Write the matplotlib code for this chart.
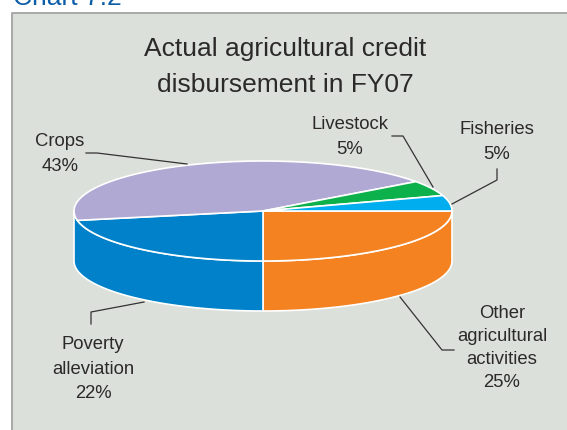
import numpy as np
import matplotlib
matplotlib.use('Agg')
import matplotlib.pyplot as plt
from matplotlib.patches import Rectangle

plt.rcParams['font.family'] = ['Liberation Sans', 'DejaVu Sans']

categories = ['Other\nagricultural\nactivities', 'Poverty\nalleviation', 'Crops', 'Livestock', 'Fisheries']
shares = [25, 22, 43, 5, 5]
colors = ['#F58220', '#0081C9', '#B0A9D3', '#0DB14B', '#00AEEF']

label_xy = [(502, 348), (93, 369), (60, 154), (350, 137), (497, 142)]
label_spacing = [1.45, 1.6, 1.6, 1.6, 1.6]
leaders = [
    [(400, 297), (442, 350), (454, 350)],
    [(144, 302), (91, 312), (91, 324)],
    [(187, 164), (97, 153), (86, 153)],
    [(433, 187), (403, 136), (392, 136)],
    [(452, 204), (497, 180), (497, 169)],
]

cx, cy = 263, 211
rx, ry = 189, 50
depth = 50
WHITE = '#FFFFFF'
TEXT = '#2B2A29'
BORDER = '#A8A8A8'


def rim(a0, a1, n=120):
    t = np.radians(np.linspace(a0, a1, n))
    return cx + rx * np.cos(t), cy + ry * np.sin(t)


fig = plt.figure(figsize=(5.67, 4.30), dpi=100)
ax = fig.add_axes([0, 0, 1, 1])
ax.set_xlim(0, 567)
ax.set_ylim(430, 0)
ax.axis('off')

# panel runs off the right and bottom of the page, border on two sides only
ax.add_patch(Rectangle((12, 13), 560, 420, facecolor='#DCE0DB', edgecolor='none'))
ax.plot([12, 12, 567], [430, 13, 13], color=BORDER, lw=1.4)
ax.text(13, 5, 'Chart 7.2', color='#0B5DA8', fontsize=19, ha='left', va='baseline')

ax.text(285, 67, 'Actual agricultural credit\ndisbursement in FY07', color=TEXT,
        fontsize=19, ha='center', va='center', linespacing=1.6)

# slices run clockwise on screen from the right-hand edge
ends = np.cumsum(shares) / sum(shares) * 360
starts = np.concatenate(([0], ends[:-1]))

# outer wall: orange, then blue carried round to the left-hand edge
wall_edges = [0, ends[0], 180]
for i in range(2):
    x, y = rim(wall_edges[i], wall_edges[i + 1])
    xs = np.concatenate((x, x[::-1]))
    ys = np.concatenate((y, y[::-1] + depth))
    ax.fill(xs, ys, facecolor=colors[i], edgecolor=WHITE, lw=1.2, joinstyle='round')

# top face
for a0, a1, col in zip(starts, ends, colors):
    x, y = rim(a0, a1)
    ax.fill(np.r_[cx, x], np.r_[cy, y], facecolor=col, edgecolor=WHITE, lw=1.2, joinstyle='round')

for name, val, (lx, ly), sp, pts in zip(categories, shares, label_xy, label_spacing, leaders):
    ax.text(lx, ly, f'{name}\n{val}%', color=TEXT, fontsize=13.3, ha='center', va='center', linespacing=sp)
    px, py = zip(*pts)
    ax.plot(px, py, color='#333333', lw=0.9)

fig.savefig('out.png', dpi=100)
